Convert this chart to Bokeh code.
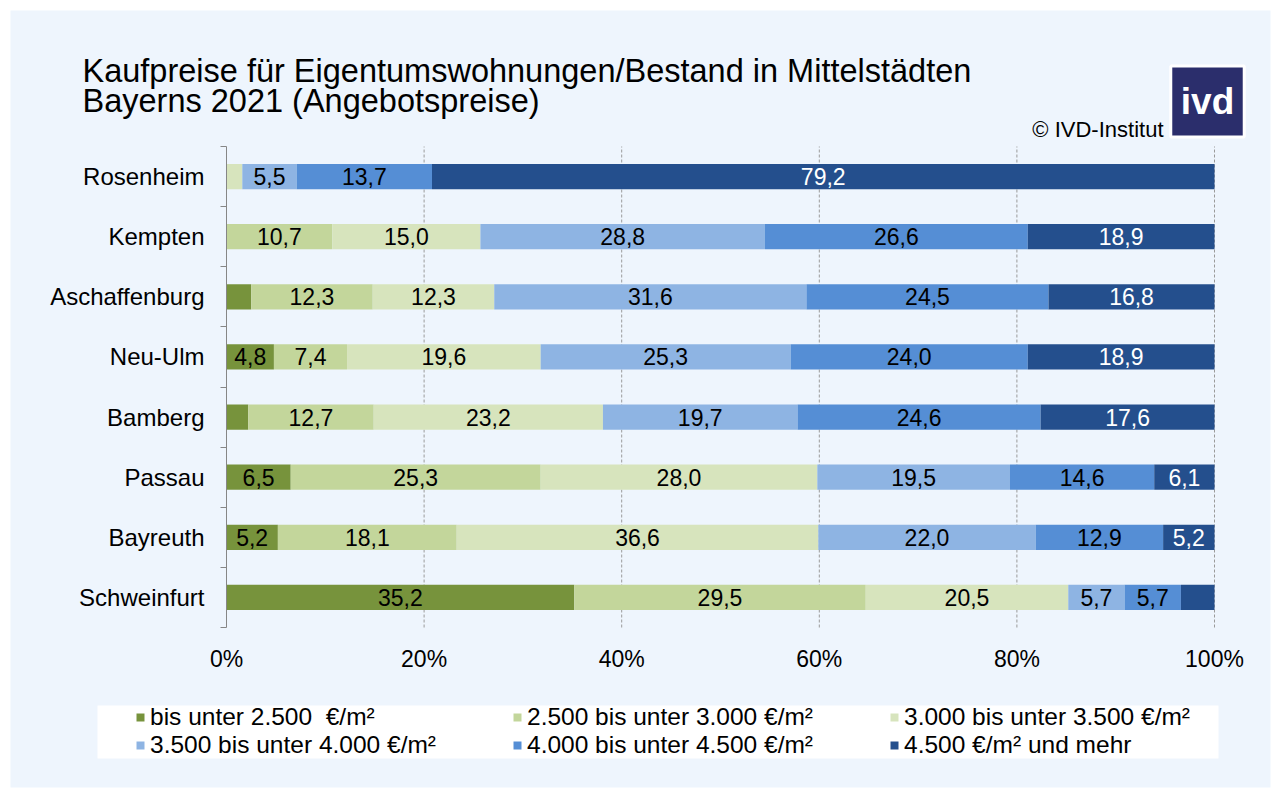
from bokeh.plotting import figure
from bokeh.models import (ColumnDataSource, FixedTicker, Label, LabelSet, Legend,
                          LegendItem, BoxAnnotation, Range1d)
from bokeh.embed import file_html
from bokeh.resources import INLINE
from bokeh.core.properties import value

# ---------------- data ----------------
cities = ["Schweinfurt", "Bayreuth", "Passau", "Bamberg", "Neu-Ulm",
          "Aschaffenburg", "Kempten", "Rosenheim"]
bis_2500 = [35.2, 5.2, 6.5, 2.2, 4.8, 2.5, 0.0, 0.0]
von_2500_3000 = [29.5, 18.1, 25.3, 12.7, 7.4, 12.3, 10.7, 0.0]
von_3000_3500 = [20.5, 36.6, 28.0, 23.2, 19.6, 12.3, 15.0, 1.6]
von_3500_4000 = [5.7, 22.0, 19.5, 19.7, 25.3, 31.6, 28.8, 5.5]
von_4000_4500 = [5.7, 12.9, 14.6, 24.6, 24.0, 24.5, 26.6, 13.7]
ab_4500 = [3.4, 5.2, 6.1, 17.6, 18.9, 16.8, 18.9, 79.2]
series_labels = ["bis unter 2.500  €/m²", "2.500 bis unter 3.000 €/m²",
                 "3.000 bis unter 3.500 €/m²", "3.500 bis unter 4.000 €/m²",
                 "4.000 bis unter 4.500 €/m²", "4.500 €/m² und mehr"]
x_ticks = [0, 20, 40, 60, 80, 100]
x_tick_labels = ["0%", "20%", "40%", "60%", "80%", "100%"]
title_lines = ["Kaufpreise für Eigentumswohnungen/Bestand in Mittelstädten",
               "Bayerns 2021 (Angebotspreise)"]
source_text = "© IVD-Institut"
logo_text = "ivd"

# ---------------- style / layout ----------------
colors = ["#77933C", "#C3D69B", "#D7E4BD", "#8EB4E3", "#558ED5", "#244F8D"]
label_colors = ["black", "black", "black", "black", "black", "white"]
BG = "#EEF5FD"
FONT = "Liberation Sans"

W, H = 1276, 792               # canvas size (page pixels)
PLOT_L, PLOT_R = 226, 1214     # pixel extent of 0..100 %
PLOT_T, PLOT_B = 146, 627      # pixel extent of the category band
NCAT = len(cities)
px_per_x = (PLOT_R - PLOT_L) / 100.0
px_per_y = (PLOT_B - PLOT_T) / float(NCAT)


def sy(page_y):  # page y -> screen units (from frame bottom, upward)
    return H - page_y


series = [bis_2500, von_2500_3000, von_3000_3500, von_3500_4000, von_4000_4500, ab_4500]
keys = ["s%d" % i for i in range(len(series))]

ypos = [i + 0.5 for i in range(NCAT)]
data = {"y": ypos}
for k, s in zip(keys, series):
    data[k] = s
src = ColumnDataSource(data)

# value labels (derived from data)
lx, ly, lt, lc = [], [], [], []
for ci in range(NCAT):
    left = 0.0
    for si, s in enumerate(series):
        v = s[ci]
        if v >= 4:
            lx.append(left + v / 2)
            ly.append(ypos[ci])
            lt.append(("%.1f" % v).replace(".", ","))
            lc.append(label_colors[si])
        left += v
lab_src = ColumnDataSource(dict(x=lx, y=ly, text=lt, color=lc))

p = figure(width=W, height=H, output_backend="svg", toolbar_location=None,
           x_range=Range1d(-PLOT_L / px_per_x, (W - PLOT_L) / px_per_x),
           y_range=Range1d(-(H - PLOT_B) / px_per_y, NCAT + PLOT_T / px_per_y),
           min_border=0, background_fill_color="white", border_fill_color="white",
           outline_line_color=None)
p.title.visible = False

# light blue panel
p.add_layout(BoxAnnotation(left=10, right=1270, bottom=sy(787), top=sy(10),
                           left_units="screen", right_units="screen",
                           top_units="screen", bottom_units="screen",
                           fill_color=BG, fill_alpha=1.0, line_color=None, level="underlay"))

# grid lines
grid_src = ColumnDataSource(dict(x=x_ticks[1:]))
p.segment(x0="x", y0=0, x1="x", y1=NCAT, source=grid_src, line_color="#9A9A9A",
          line_width=1, line_dash="3 2")

renderers = p.hbar_stack(keys, y="y", height=0.42, color=colors, source=src,
                         line_color=None)

p.add_layout(LabelSet(x="x", y="y", text="text", source=lab_src, text_color="color",
                      text_align="center", text_baseline="middle",
                      text_font=value(FONT), text_font_size="23px"))

# x axis (fixed at y=0)
p.xaxis.fixed_location = 0
p.xaxis.bounds = (0, 100)
p.xaxis.ticker = FixedTicker(ticks=x_ticks)
p.xaxis.major_label_overrides = {t: l for t, l in zip(x_ticks, x_tick_labels)}
p.xaxis.axis_line_color = None
p.xaxis.major_tick_line_color = None
p.xaxis.minor_tick_line_color = None
p.xaxis.major_tick_out = 0
p.xaxis.major_tick_in = 0
p.xaxis.major_label_standoff = 18
p.xaxis.major_label_text_font = FONT
p.xaxis.major_label_text_font_size = "23px"
p.xaxis.major_label_text_color = "black"

# y axis (fixed at x=0)
p.yaxis.fixed_location = 0
p.yaxis.bounds = (0, NCAT)
p.yaxis.ticker = FixedTicker(ticks=ypos, minor_ticks=list(range(NCAT + 1)))
p.yaxis.major_label_overrides = {y: c for y, c in zip(ypos, cities)}
p.yaxis.axis_line_color = "#868686"
p.yaxis.major_tick_line_color = None
p.yaxis.major_tick_out = 0
p.yaxis.major_tick_in = 0
p.yaxis.minor_tick_line_color = "#868686"
p.yaxis.minor_tick_out = 6
p.yaxis.minor_tick_in = 0
p.yaxis.major_label_standoff = 16
p.yaxis.major_label_text_font = FONT
p.yaxis.major_label_text_font_size = "24px"
p.yaxis.major_label_text_color = "black"

p.xgrid.visible = False
p.ygrid.visible = False

# legend box
p.add_layout(BoxAnnotation(left=97, right=1218, bottom=sy(758), top=sy(705),
                           left_units="screen", right_units="screen",
                           top_units="screen", bottom_units="screen",
                           fill_color="white", fill_alpha=1.0, line_color=None))

legend = Legend(items=[LegendItem(label=l, renderers=[r]) for l, r in zip(series_labels, renderers)],
                location=(135, sy(759)), orientation="horizontal", ncols=3,
                background_fill_alpha=0, border_line_color=None, padding=0, margin=0,
                spacing=0, glyph_width=10, glyph_height=10, label_standoff=5,
                label_width=362, label_height=26,
                label_text_font=FONT, label_text_font_size="24.5px",
                label_text_color="black")
p.add_layout(legend, "center")

# title
p.add_layout(Label(x=82, y=sy(70), x_units="screen", y_units="screen", text=title_lines[0],
                   text_font=FONT, text_font_size="32.5px", text_color="black",
                   text_baseline="alphabetic"))
p.add_layout(Label(x=82, y=sy(100), x_units="screen", y_units="screen", text=title_lines[1],
                   text_font=FONT, text_font_size="32.5px", text_color="black",
                   text_baseline="alphabetic"))
p.add_layout(Label(x=1163, y=sy(129), x_units="screen", y_units="screen", text=source_text,
                   text_font=FONT, text_font_size="22px", text_color="black",
                   text_align="right", text_baseline="alphabetic"))
# logo
p.add_layout(Label(x=1207, y=sy(101), x_units="screen", y_units="screen", text=logo_text,
                   text_font=FONT, text_font_size="37px", text_font_style="bold",
                   text_color="white", text_align="center", text_baseline="middle",
                   background_fill_color="#2B2E6C", border_line_color="white",
                   border_line_width=3,
                   padding=dict(left=10, right=10, top=15, bottom=15)))

open("out.html", "w").write(file_html(p, INLINE))
